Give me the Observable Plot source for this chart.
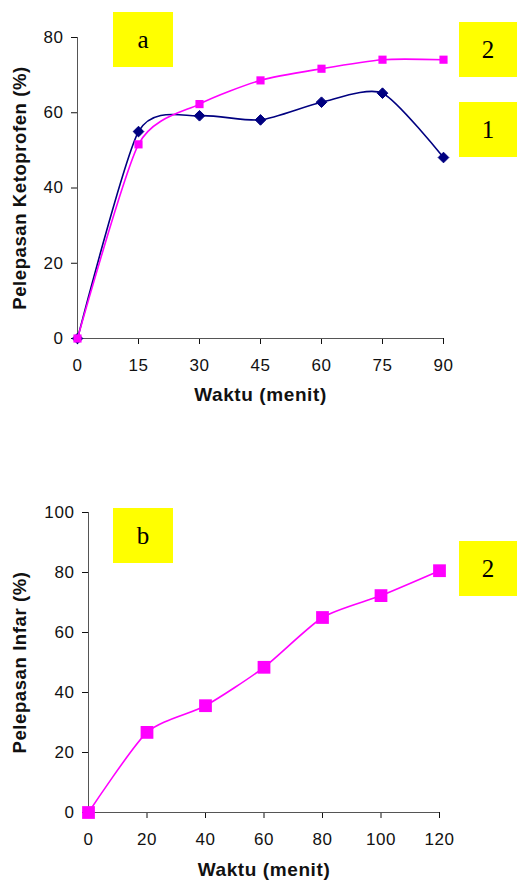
<!DOCTYPE html>
<html>
<head>
<meta charset="utf-8">
<script src="https://cdn.jsdelivr.net/npm/d3@7"></script>
<script src="https://cdn.jsdelivr.net/npm/@observablehq/plot@0.6"></script>
<style>
  html, body { margin: 0; padding: 0; background: #fff; }
  #wrap { position: relative; width: 517px; height: 883px; overflow: hidden; background: #fff; }
  #wrap svg { position: absolute; left: 0; }
  .tag { position: absolute; background: #ffff00; font-family: "Liberation Serif", "Times New Roman", serif; font-size: 25px; color: #000; display: flex; align-items: center; justify-content: center; }
</style>
</head>
<body>
<div id="wrap"></div>
<script>
// Panel a: ketoprofen release
const timeA = [0, 15, 30, 45, 60, 75, 90];
const ketoSeries1 = [0, 55.0, 59.2, 58.1, 62.8, 65.2, 48.1];
const ketoSeries2 = [0, 51.6, 62.3, 68.6, 71.7, 74.1, 74.1];
const xTicksA = [0, 15, 30, 45, 60, 75, 90];
const yTicksA = [0, 20, 40, 60, 80];

// Panel b: infar release
const timeB = [0, 20, 40, 60, 80, 100, 120];
const infarSeries2 = [0, 26.7, 35.6, 48.4, 65.0, 72.3, 80.6];
const xTicksB = [0, 20, 40, 60, 80, 100, 120];
const yTicksB = [0, 20, 40, 60, 80, 100];

const xTitle = "Waktu (menit)";
const yTitleA = "Pelepasan Ketoprofen (%)";
const yTitleB = "Pelepasan Infar (%)";

const NAVY = "#000080";
const MAGENTA = "#ff00ff";
const AXIS = "#555555";
const smooth = d3.curveCardinal.tension(0.3);

const rowsA1 = timeA.map((t, i) => ({t, v: ketoSeries1[i]}));
const rowsA2 = timeA.map((t, i) => ({t, v: ketoSeries2[i]}));
const rowsB = timeB.map((t, i) => ({t, v: infarSeries2[i]}));

const baseStyle = {fontFamily: "'Liberation Sans', Arial, sans-serif", fontSize: "17px", letterSpacing: "0.6px", color: "#111", background: "transparent", overflow: "visible"};

const plotA = Plot.plot({
  width: 517, height: 420,
  marginTop: 37, marginBottom: 82, marginLeft: 77, marginRight: 74,
  style: baseStyle,
  x: {domain: [0, 90], ticks: xTicksA, tickSize: 6, tickPadding: 14, label: null},
  y: {domain: [0, 80], ticks: yTicksA, tickSize: 6, tickPadding: 8, label: null},
  marks: [
    Plot.ruleY([0], {stroke: AXIS}),
    Plot.ruleX([0], {stroke: AXIS}),
    Plot.line(rowsA1, {x: "t", y: "v", stroke: NAVY, strokeWidth: 1.6, curve: smooth}),
    Plot.dot(rowsA1, {x: "t", y: "v", symbol: "diamond2", fill: NAVY, stroke: NAVY, strokeWidth: 1, r: 4.8}),
    Plot.line(rowsA2, {x: "t", y: "v", stroke: MAGENTA, strokeWidth: 1.6, curve: smooth}),
    Plot.dot(rowsA2, {x: "t", y: "v", symbol: "square", fill: MAGENTA, r: 4.6}),
    Plot.text([xTitle], {text: d => d, frameAnchor: "bottom", dy: 62, fontWeight: "bold", fontSize: 19, fill: "#111"}),
    Plot.text([yTitleA], {text: d => d, frameAnchor: "left", textAnchor: "middle", dx: -57, rotate: -90, fontWeight: "bold", fontSize: 18.5, fill: "#111"})
  ]
});
plotA.style.top = "0px";

const plotB = Plot.plot({
  width: 517, height: 403,
  marginTop: 32, marginBottom: 71, marginLeft: 88, marginRight: 78,
  style: baseStyle,
  x: {domain: [0, 120], ticks: xTicksB, tickSize: 6, tickPadding: 14, label: null},
  y: {domain: [0, 100], ticks: yTicksB, tickSize: 6, tickPadding: 8, label: null},
  marks: [
    Plot.ruleY([0], {stroke: AXIS}),
    Plot.ruleX([0], {stroke: AXIS}),
    Plot.line(rowsB, {x: "t", y: "v", stroke: MAGENTA, strokeWidth: 1.6, curve: smooth}),
    Plot.dot(rowsB, {x: "t", y: "v", symbol: "square", fill: MAGENTA, r: 7.2}),
    Plot.text([xTitle], {text: d => d, frameAnchor: "bottom", dy: 63, fontWeight: "bold", fontSize: 19, fill: "#111"}),
    Plot.text([yTitleB], {text: d => d, frameAnchor: "left", textAnchor: "middle", dx: -68, rotate: -90, fontWeight: "bold", fontSize: 18.5, fill: "#111"})
  ]
});
plotB.style.top = "480px";

const wrap = document.getElementById("wrap");
wrap.appendChild(plotA);
wrap.appendChild(plotB);

// Yellow panel/series tags
const tags = [
  {text: "a", left: 113, top: 12},
  {text: "2", left: 459, top: 22},
  {text: "1", left: 459, top: 102},
  {text: "b", left: 113, top: 508},
  {text: "2", left: 459, top: 541}
];
for (const t of tags) {
  const d = document.createElement("div");
  d.className = "tag";
  d.textContent = t.text;
  d.style.left = t.left + "px";
  d.style.top = t.top + "px";
  d.style.width = (t.left === 459 ? 58 : 60) + "px";
  d.style.height = "55px";
  wrap.appendChild(d);
}
</script>
</body>
</html>
